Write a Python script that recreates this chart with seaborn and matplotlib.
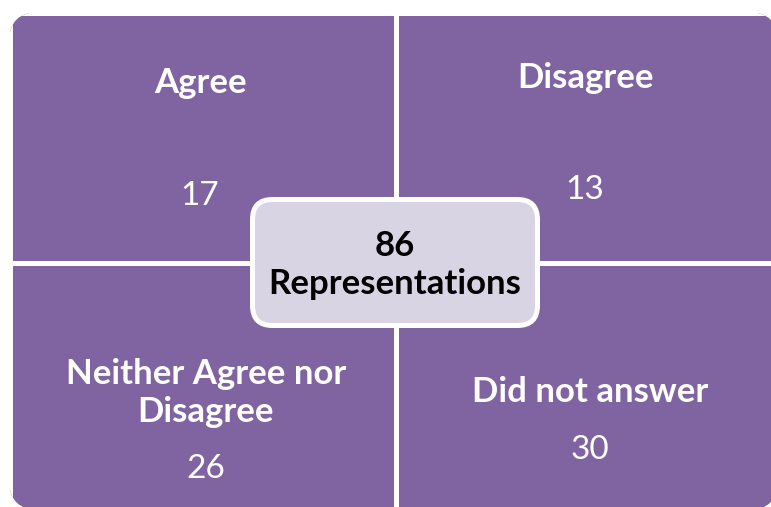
# Survey responses matrix (2x2) with total in the centre
import pandas as pd
import matplotlib.pyplot as plt
from matplotlib.colors import ListedColormap
from matplotlib.patches import FancyBboxPatch
import seaborn as sns

# data
row_names = ['top', 'bottom']
col_names = ['left', 'right']
labels = [['Agree', 'Disagree'],
          ['Neither Agree nor\nDisagree', 'Did not answer']]
counts = [[17, 13],
          [26, 30]]
centre_label = 'Representations'
total = sum(sum(r) for r in counts)   # 86

purple = '#8064A2'
lilac = '#D9D4E3'

sns.set_theme(style='white')
plt.rcParams['font.family'] = ['Lato', 'DejaVu Sans']

fig = plt.figure(figsize=(7.71, 5.07), dpi=100)

# quadrants drawn as a 2x2 heatmap, white grid lines make the gaps
ax = fig.add_axes([0, 0, 1, 1])
df = pd.DataFrame(counts, index=row_names, columns=col_names)
sns.heatmap(df, cmap=ListedColormap([purple]), cbar=False,
            linewidths=3.6, linecolor='white', ax=ax)
# map cell units onto pixels (cell ~385 x 249.5 px, origin at 10,13)
ax.set_xlim(-10 / 385.5, 761 / 385.5)
ax.set_ylim(494 / 249.5, -13 / 249.5)
ax.axis('off')

# overlay in pixel coordinates for the rounded outline, centre box and text
ov = fig.add_axes([0, 0, 1, 1])
ov.set_xlim(0, 771)
ov.set_ylim(507, 0)
ov.axis('off')
ov.patch.set_alpha(0)

clip = FancyBboxPatch((9, 12), 769, 498,
                      boxstyle='round,pad=0,rounding_size=30',
                      transform=ov.transData)
ax.collections[0].set_clip_path(clip)

# label / count positions per quadrant (pixels)
label_pos = [[(200, 83), (585, 78)], [(206, 393), (590, 392)]]
count_pos = [[(200, 196), (585, 190)], [(206, 469), (590, 450)]]

for i in range(2):
    for j in range(2):
        lx, ly = label_pos[i][j]
        cx, cy = count_pos[i][j]
        ov.text(lx, ly, labels[i][j], color='white', fontsize=25,
                fontweight='bold', ha='center', va='center', linespacing=1.25)
        ov.text(cx, cy, str(counts[i][j]), color='white', fontsize=24,
                ha='center', va='center')

# centre box
box = FancyBboxPatch((252.5, 199.5), 285, 126,
                     boxstyle='round,pad=0,rounding_size=20',
                     fc=lilac, ec='white', lw=3.6, zorder=3)
ov.add_patch(box)
ov.text(395, 265, f'{total}\n{centre_label}', color='black', fontsize=25,
        fontweight='bold', ha='center', va='center', linespacing=1.25, zorder=4)

plt.savefig('out.png', dpi=100)
